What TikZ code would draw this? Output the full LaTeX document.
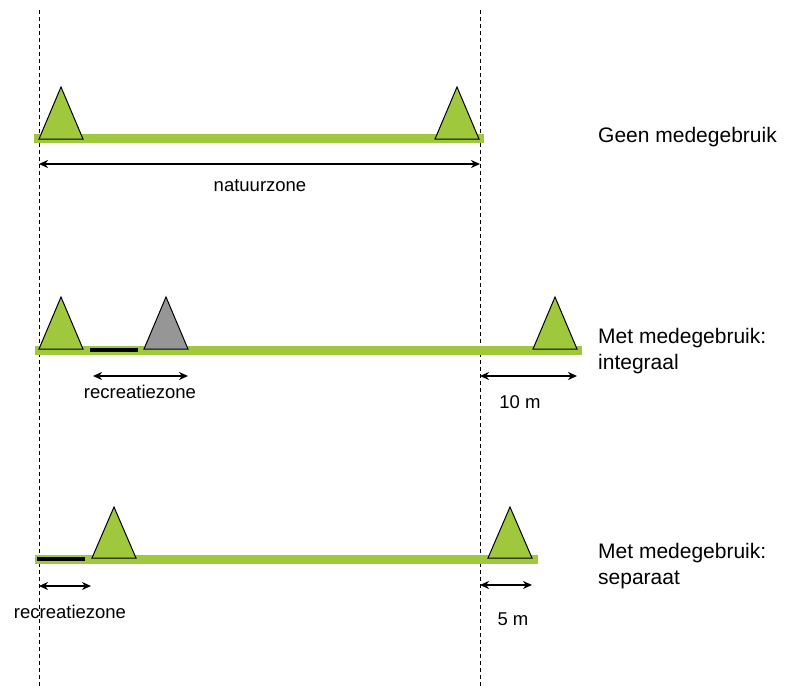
\documentclass[tikz,border=0pt]{standalone}
\usepackage{fontspec}
\setmainfont{Liberation Sans}
\usetikzlibrary{arrows.meta}
\definecolor{grass}{RGB}{160,200,60}
\definecolor{rock}{RGB}{150,150,150}
\begin{document}
\begin{tikzpicture}[x=1pt,y=-1pt,
  bar/.style={fill=grass, draw=none},
  tri/.style={fill=grass, draw=black, line width=1pt, line join=miter},
  graytri/.style={tri, fill=rock},
  path/.style={line width=4pt, draw=black},
  guide/.style={dash pattern=on 4pt off 3pt, line width=0.9pt},
  dim/.style={{Stealth[length=9pt,width=8pt]}-{Stealth[length=9pt,width=8pt]}, line width=1.5pt},
  small/.style={font=\fontsize{18.5}{22}\selectfont, inner sep=0pt, anchor=base},
  big/.style={font=\fontsize{21}{26}\selectfont, align=left, anchor=base west, inner sep=0pt}
]
\useasboundingbox (0,0) rectangle (785,688);

% guides
\coordinate (gLt) at (39,10);  \coordinate (gLb) at (39,688);
\coordinate (gRt) at (480,10); \coordinate (gRb) at (480,688);
\draw[guide] (gLt) -- (gLb);
\draw[guide] (gRt) -- (gRb);

% ---------- row 1 ----------
\fill[bar] (34,133.5) rectangle (484,142.5);
\draw[tri] (39,139) -- (61,87) -- (83,139) -- cycle;
\draw[tri] (435,139) -- (457,87) -- (479,139) -- cycle;
\coordinate (a1l) at (39,164); \coordinate (a1r) at (480,164);
\draw[dim] (a1l) -- (a1r);
\node[small] (t1) at (260,191) {natuurzone};
\node[big] (l1) at (598,142) {Geen medegebruik};

% ---------- row 2 ----------
\fill[bar] (35,345.5) rectangle (582,354.5);
\draw[tri] (39,349) -- (61,297) -- (83,349) -- cycle;
\draw[graytri] (144,349) -- (166,297) -- (188,349) -- cycle;
\draw[tri] (533,349) -- (555,297) -- (577,349) -- cycle;
\coordinate (p2a) at (90,350); \coordinate (p2b) at (138,350);
\draw[path] (p2a) -- (p2b);
\coordinate (a2l) at (93,376); \coordinate (a2r) at (188,376);
\draw[dim] (a2l) -- (a2r);
\node[small] (t2) at (140,398) {recreatiezone};
\coordinate (b2l) at (480,376); \coordinate (b2r) at (577,376);
\draw[dim] (b2l) -- (b2r);
\node[small] (m2) at (520,408) {10 m};
\node[big] (l2) at (598,369) {Met medegebruik:\\integraal};

% ---------- row 3 ----------
\fill[bar] (35,554.5) rectangle (538,563.5);
\draw[tri] (92,558) -- (114,507) -- (136,558) -- cycle;
\draw[tri] (488,558) -- (510,507) -- (532,558) -- cycle;
\coordinate (p3a) at (37,559); \coordinate (p3b) at (85,559);
\draw[path] (p3a) -- (p3b);
\coordinate (a3l) at (39,586); \coordinate (a3r) at (91,586);
\draw[dim] (a3l) -- (a3r);
\node[small] (t3) at (70,618) {recreatiezone};
\coordinate (b3l) at (480,585); \coordinate (b3r) at (532,585);
\draw[dim] (b3l) -- (b3r);
\node[small] (m3) at (513,625) {5 m};
\node[big] (l3) at (598,584) {Met medegebruik:\\separaat};
\end{tikzpicture}
\end{document}
